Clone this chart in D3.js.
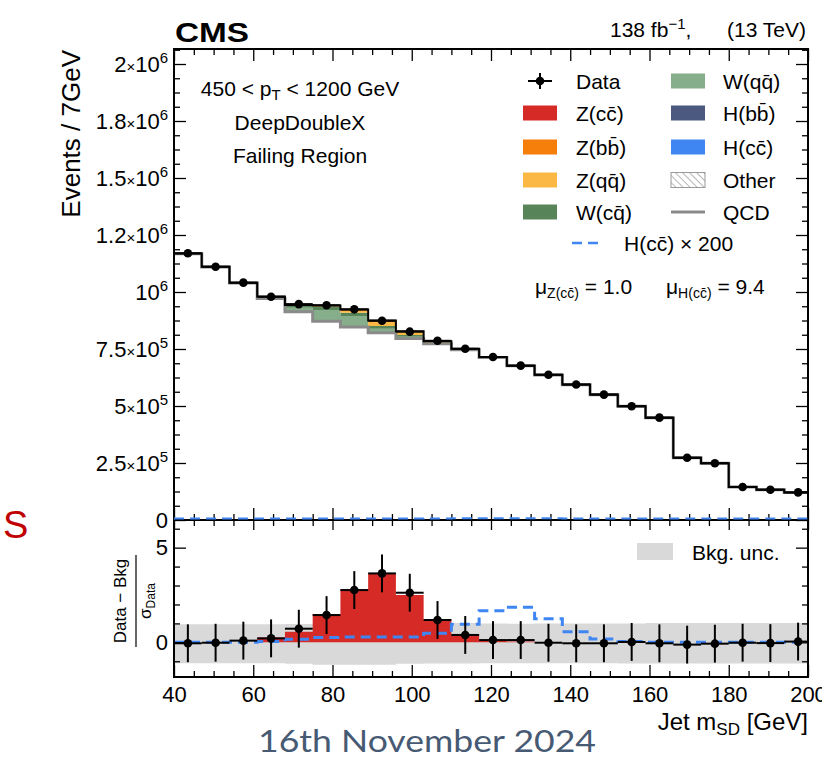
<!DOCTYPE html>
<html>
<head>
<meta charset="utf-8">
<script src="https://cdn.jsdelivr.net/npm/d3@7"></script>
<style>
  body { margin: 0; background: #fff; }
  svg text { font-family: "Liberation Sans", Arial, Helvetica, sans-serif; fill: #000; white-space: pre; }
</style>
</head>
<body>
<div id="chart"></div>
<script>
// Jet mSD bins (7 GeV wide), low edges
const binLow = [40, 47, 54, 61, 68, 75, 82, 89, 96, 103, 110, 117, 124, 131, 138, 145, 152, 159, 166, 173, 180, 187, 194];
const binWidth = 7;

// Top panel: events per bin
const dataCounts = [1170000, 1111000, 1041000, 979000, 947000, 942000, 924000, 874000, 826000, 786000, 751000, 715000, 677000, 637000, 594000, 550000, 499000, 449000, 273000, 249000, 145000, 133000, 121000];
const qcd = [1168000, 1109500, 1039500, 971500, 913000, 872000, 847000, 821000, 796500, 772500, 746500, 713000, 676000, 636000, 593500, 549500, 498500, 448500, 272500, 248500, 144500, 132500, 120500];
const other = [1200, 1100, 1000, 950, 900, 850, 800, 780, 750, 720, 700, 680, 650, 620, 600, 560, 520, 480, 300, 270, 180, 160, 140];
const hcc = [0, 0, 0, 0.2, 0.7, 1, 1.3, 1.4, 1.2, 1.9, 3.7, 6.1, 7.8, 5.2, 2.2, 0.7, 0.1, 0, 0, 0, 0, 0, 0];
const hbb = [0, 0, 0, 0, 0, 0, 0, 5, 10, 20, 40, 60, 70, 50, 20, 5, 0, 0, 0, 0, 0, 0, 0];
const wqq = [0, 0, 0, 5500, 17500, 48000, 47000, 17500, 7000, 2000, 500, 0, 0, 0, 0, 0, 0, 0, 0, 0, 0, 0, 0];
const wcq = [0, 0, 0, 2000, 9000, 14500, 14500, 12000, 7000, 1500, 300, 0, 0, 0, 0, 0, 0, 0, 0, 0, 0, 0, 0];
const zqq = [0, 0, 0, 500, 2000, 3000, 9000, 17500, 12000, 5000, 2500, 1000, 0, 0, 0, 0, 0, 0, 0, 0, 0, 0, 0];
const zbb = [0, 0, 0, 0, 300, 800, 2000, 3000, 2500, 1200, 400, 0, 0, 0, 0, 0, 0, 0, 0, 0, 0, 0, 0];
const zcc = [0, 0, 0, 200, 600, 1500, 3000, 3500, 2500, 1100, 400, 100, 0, 0, 0, 0, 0, 0, 0, 0, 0, 0, 0];

// Bottom panel: (Data - Bkg) / sigma_Data
const dataPull = [-0.05, -0.02, 0.09, 0.21, 0.72, 1.44, 2.76, 3.64, 2.62, 1.18, 0.39, 0.12, 0.12, -0.02, -0.05, -0.05, 0.02, -0.05, -0.12, -0.07, -0.02, -0.04, 0.04];
const zccPull = [0, 0, 0, 0.25, 0.56, 1.5, 2.8, 3.64, 2.5, 1.21, 0.42, 0.11, 0.05, 0, 0, 0, 0, 0, 0, 0, 0, 0, 0];
const hcc200Pull = [0, 0, 0, 0.04, 0.16, 0.25, 0.28, 0.28, 0.28, 0.48, 0.96, 1.67, 1.85, 1.25, 0.56, 0.18, 0.04, 0, 0, 0, 0, 0, 0];
const bkgUncUp = [0.95, 0.95, 0.95, 0.95, 0.97, 1.0, 1.0, 1.0, 1.0, 1.02, 1.02, 1.0, 0.98, 1.0, 1.0, 1.0, 1.0, 1.02, 1.02, 1.02, 1.02, 1.02, 1.02];
const bkgUncDown = [-1.11, -1.11, -1.11, -1.11, -1.13, -1.18, -1.18, -1.18, -1.13, -1.12, -1.12, -1.1, -1.1, -1.1, -1.1, -1.1, -1.12, -1.12, -1.12, -1.12, -1.12, -1.12, -1.12];

// Axis ticks
const xTicks = [40, 60, 80, 100, 120, 140, 160, 180, 200];
const yTickValues = [0, 250000, 500000, 750000, 1000000, 1250000, 1500000, 1750000, 2000000];
const yTickMantissa = ["0", "2.5", "5", "7.5", "", "1.2", "1.5", "1.8", "2"];
const yTickExp = [null, 5, 5, 5, 6, 6, 6, 6, 6];
const pullTicks = [0, 5];

// Legend
const stackKeys = ["qcd", "other", "hcc", "hbb", "wqq", "wcq", "zqq", "zbb", "zcc"];
const colors = {
  zcc: "#d52a26", zbb: "#f57f0a", zqq: "#fcb845", wcq: "#588459",
  wqq: "#87ae8b", hbb: "#4b5980", hcc: "#3f86f2", other: "url(#hatch)"
};
const legendCol1 = [["data", "Data"], ["zcc", "Z(cc\u0304)"], ["zbb", "Z(bb\u0304)"], ["zqq", "Z(qq\u0304)"], ["wcq", "W(cq\u0304)"]];
const legendCol2 = [["wqq", "W(qq\u0304)"], ["hbb", "H(bb\u0304)"], ["hcc", "H(cc\u0304)"], ["other", "Other"], ["qcd", "QCD"]];

const width = 822, height = 764;
const svg = d3.select("#chart").append("svg").attr("width", width).attr("height", height);
const defs = svg.append("defs");

const pat = defs.append("pattern").attr("id", "hatch").attr("patternUnits", "userSpaceOnUse")
  .attr("width", 5).attr("height", 5).attr("patternTransform", "rotate(-45)");
pat.append("rect").attr("width", 5).attr("height", 5).attr("fill", "#fff");
pat.append("line").attr("x1", 0).attr("y1", 0).attr("x2", 0).attr("y2", 5).attr("stroke", "#888").attr("stroke-width", 1.2);

const x = d3.scaleLinear().domain([40, 200]).range([174, 808]);
const yTop = d3.scaleLinear().domain([0, 2065800]).range([520, 49]);
const yBot = d3.scaleLinear().domain([-1.83, 6.46]).range([677, 520]);

defs.append("clipPath").attr("id", "clipTop").append("rect")
  .attr("x", 174).attr("y", 49).attr("width", 634).attr("height", 471);
defs.append("clipPath").attr("id", "clipBot").append("rect")
  .attr("x", 174).attr("y", 520).attr("width", 634).attr("height", 157);

function steps(vals) {
  const pts = binLow.map((lo, i) => [lo, vals[i]]);
  pts.push([binLow[binLow.length - 1] + binWidth, vals[vals.length - 1]]);
  return pts;
}
const centers = binLow.map(lo => lo + binWidth / 2);

// ---------- top panel ----------
const topG = svg.append("g").attr("clip-path", "url(#clipTop)");

const rows = binLow.map((lo, i) => ({
  lo, qcd: qcd[i], other: other[i], hcc: hcc[i], hbb: hbb[i], wqq: wqq[i],
  wcq: wcq[i], zqq: zqq[i], zbb: zbb[i], zcc: zcc[i]
}));
rows.push(Object.assign({}, rows[rows.length - 1], { lo: binLow[binLow.length - 1] + binWidth }));
const series = d3.stack().keys(stackKeys)(rows);

const stackArea = d3.area().curve(d3.curveStepAfter)
  .x(d => x(d.data.lo)).y0(d => yTop(d[0])).y1(d => yTop(d[1]));

topG.selectAll(".stack")
  .data(series.filter(s => s.key !== "qcd"))
  .join("path")
  .attr("class", "stack")
  .attr("fill", s => colors[s.key])
  .attr("d", stackArea);

const stepLine = (yScale) => d3.line().curve(d3.curveStepAfter).x(d => x(d[0])).y(d => yScale(d[1]));

topG.append("path").datum(steps(qcd))
  .attr("fill", "none").attr("stroke", "#8a8a8a").attr("stroke-width", 3)
  .attr("d", stepLine(yTop));

const total = series[series.length - 1].map(d => d[1]).slice(0, binLow.length);
topG.append("path").datum(steps(total))
  .attr("fill", "none").attr("stroke", "#000").attr("stroke-width", 2)
  .attr("d", stepLine(yTop));

const pts = topG.selectAll(".pt").data(dataCounts).join("g").attr("class", "pt");
pts.append("line")
  .attr("x1", (d, i) => x(binLow[i])).attr("x2", (d, i) => x(binLow[i] + binWidth))
  .attr("y1", d => yTop(d)).attr("y2", d => yTop(d))
  .attr("stroke", "#000").attr("stroke-width", 2);
pts.append("line")
  .attr("x1", (d, i) => x(centers[i])).attr("x2", (d, i) => x(centers[i]))
  .attr("y1", d => yTop(d - Math.sqrt(d))).attr("y2", d => yTop(d + Math.sqrt(d)))
  .attr("stroke", "#000").attr("stroke-width", 2);
pts.append("circle")
  .attr("cx", (d, i) => x(centers[i])).attr("cy", d => yTop(d)).attr("r", 4.3).attr("fill", "#000");

// ---------- bottom panel ----------
const botG = svg.append("g").attr("clip-path", "url(#clipBot)");

const band = binLow.map((lo, i) => ({ lo, up: bkgUncUp[i], dn: bkgUncDown[i] }));
band.push(Object.assign({}, band[band.length - 1], { lo: binLow[binLow.length - 1] + binWidth }));
botG.append("path").datum(band)
  .attr("fill", "#d9d9d9")
  .attr("d", d3.area().curve(d3.curveStepAfter).x(d => x(d.lo)).y0(d => yBot(d.dn)).y1(d => yBot(d.up)));

botG.append("path").datum(steps(zccPull))
  .attr("fill", "#d52a26")
  .attr("d", d3.area().curve(d3.curveStepAfter).x(d => x(d[0])).y0(yBot(0)).y1(d => yBot(d[1])));

botG.append("path").datum(steps(hcc200Pull))
  .attr("fill", "none").attr("stroke", "#3f86f2").attr("stroke-width", 3)
  .attr("stroke-dasharray", "10,6")
  .attr("d", stepLine(yBot));

const bpts = botG.selectAll(".bpt").data(dataPull).join("g").attr("class", "bpt");
bpts.append("line")
  .attr("x1", (d, i) => x(binLow[i])).attr("x2", (d, i) => x(binLow[i] + binWidth))
  .attr("y1", d => yBot(d)).attr("y2", d => yBot(d))
  .attr("stroke", "#000").attr("stroke-width", 2);
bpts.append("line")
  .attr("x1", (d, i) => x(centers[i])).attr("x2", (d, i) => x(centers[i]))
  .attr("y1", d => yBot(d - 1)).attr("y2", d => yBot(d + 1))
  .attr("stroke", "#000").attr("stroke-width", 2);
bpts.append("circle")
  .attr("cx", (d, i) => x(centers[i])).attr("cy", d => yBot(d)).attr("r", 4.3).attr("fill", "#000");

// ---------- axes ----------
const xMinor = d3.range(40, 201, 5).filter(v => v % 20 !== 0);
const yMinor = d3.range(0, 2065800, 62500).filter(v => v % 250000 !== 0);
const pullMinor = [-1, 1, 2, 3, 4, 6];

function styleAxis(g) {
  g.select(".domain").remove();
  g.selectAll(".tick line").attr("stroke-width", 1.3);
  g.attr("font-family", null).attr("font-size", 22);
}
function addAxis(axis, tx, ty) {
  return svg.append("g").attr("transform", `translate(${tx},${ty})`).call(axis).call(styleAxis);
}

// top panel
const yAx = addAxis(d3.axisLeft(yTop).tickValues(yTickValues).tickSize(-12).tickPadding(6).tickFormat(() => ""), 174, 0);
yAx.selectAll(".tick text").each(function (d, i) {
  const t = d3.select(this);
  if (yTickExp[i] === null) { t.text(yTickMantissa[i]); return; }
  if (yTickMantissa[i]) {
    t.append("tspan").text(yTickMantissa[i]);
    t.append("tspan").attr("font-size", 15).text("\u00d7");
  }
  t.append("tspan").text("10");
  t.append("tspan").attr("font-size", 15).attr("dy", -9).text(yTickExp[i]);
});
addAxis(d3.axisLeft(yTop).tickValues(yMinor).tickSize(-6).tickFormat(""), 174, 0);
addAxis(d3.axisRight(yTop).tickValues(yTickValues).tickSize(-12).tickFormat(""), 808, 0);
addAxis(d3.axisRight(yTop).tickValues(yMinor).tickSize(-6).tickFormat(""), 808, 0);
addAxis(d3.axisTop(x).tickValues(xTicks).tickSize(-12).tickFormat(""), 0, 49);
addAxis(d3.axisTop(x).tickValues(xMinor).tickSize(-6).tickFormat(""), 0, 49);
addAxis(d3.axisBottom(x).tickValues(xTicks).tickSize(-12).tickFormat(""), 0, 520);
addAxis(d3.axisBottom(x).tickValues(xMinor).tickSize(-6).tickFormat(""), 0, 520);

// bottom panel
addAxis(d3.axisTop(x).tickValues(xTicks).tickSize(-10).tickFormat(""), 0, 520);
addAxis(d3.axisTop(x).tickValues(xMinor).tickSize(-6).tickFormat(""), 0, 520);
addAxis(d3.axisBottom(x).tickValues(xTicks).tickSize(-12).tickPadding(9), 0, 677);
addAxis(d3.axisBottom(x).tickValues(xMinor).tickSize(-6).tickFormat(""), 0, 677);
addAxis(d3.axisLeft(yBot).tickValues(pullTicks).tickSize(-12).tickPadding(6), 174, 0);
addAxis(d3.axisLeft(yBot).tickValues(pullMinor).tickSize(-6).tickFormat(""), 174, 0);
addAxis(d3.axisRight(yBot).tickValues(pullTicks).tickSize(-12).tickFormat(""), 808, 0);
addAxis(d3.axisRight(yBot).tickValues(pullMinor).tickSize(-6).tickFormat(""), 808, 0);

// frames
svg.append("rect").attr("x", 174).attr("y", 49).attr("width", 634).attr("height", 471)
  .attr("fill", "none").attr("stroke", "#000").attr("stroke-width", 2);
svg.append("rect").attr("x", 174).attr("y", 520).attr("width", 634).attr("height", 157)
  .attr("fill", "none").attr("stroke", "#000").attr("stroke-width", 2);

// H(cc) x 200 in the top panel sits on the zero line, drawn over the frame
svg.append("g").attr("clip-path", "url(#clipTop)")
  .append("path").datum(steps(hcc.map(v => v * 200)))
  .attr("transform", "translate(0,-1.5)")
  .attr("fill", "none").attr("stroke", "#3f86f2").attr("stroke-width", 2)
  .attr("stroke-dasharray", "10,6")
  .attr("d", stepLine(yTop));

// ---------- labels ----------
svg.append("text").attr("x", 175).attr("y", 42).attr("font-size", 28).attr("font-weight", "bold")
  .attr("textLength", 74).attr("lengthAdjust", "spacingAndGlyphs").text("CMS");

const lumi = svg.append("text").attr("x", 610).attr("y", 37).attr("font-size", 21);
lumi.append("tspan").text("138 fb");
lumi.append("tspan").attr("font-size", 15).attr("dy", -8).text("\u22121");
lumi.append("tspan").attr("dy", 8).text(",");
svg.append("text").attr("x", 806).attr("y", 37).attr("font-size", 21).attr("text-anchor", "end").text("(13 TeV)");

svg.append("text").attr("transform", "translate(80,50) rotate(-90)").attr("text-anchor", "end")
  .attr("font-size", 26).text("Events / 7GeV");

const info = svg.append("g").attr("font-size", 21).attr("text-anchor", "middle");
const ptText = info.append("text").attr("x", 300).attr("y", 96);
ptText.append("tspan").text("450 < p");
ptText.append("tspan").attr("font-size", 15).attr("dy", 4).text("T");
ptText.append("tspan").attr("dy", -4).text(" < 1200 GeV");
info.append("text").attr("x", 300).attr("y", 130).text("DeepDoubleX");
info.append("text").attr("x", 300).attr("y", 163).text("Failing Region");

// legend
const rowY = [81, 113, 147, 180, 212];
const leg = svg.append("g").attr("font-size", 21);
function legendItem(key, label, sx, tx, cy) {
  if (key === "data") {
    leg.append("line").attr("x1", sx + 5).attr("x2", sx + 29).attr("y1", cy).attr("y2", cy).attr("stroke", "#000").attr("stroke-width", 2);
    leg.append("line").attr("x1", sx + 17).attr("x2", sx + 17).attr("y1", cy - 8).attr("y2", cy + 8).attr("stroke", "#000").attr("stroke-width", 2);
    leg.append("circle").attr("cx", sx + 17).attr("cy", cy).attr("r", 4.3);
  } else if (key === "qcd") {
    leg.append("line").attr("x1", sx).attr("x2", sx + 34).attr("y1", cy).attr("y2", cy).attr("stroke", "#8a8a8a").attr("stroke-width", 3);
  } else {
    leg.append("rect").attr("x", sx).attr("y", cy - 7.5).attr("width", 34).attr("height", 15)
      .attr("fill", colors[key]).attr("stroke", key === "other" ? "#999" : "none");
  }
  leg.append("text").attr("x", tx).attr("y", cy + 7.5).text(label);
}
legendCol1.forEach(([k, l], i) => legendItem(k, l, 523, 576, rowY[i]));
legendCol2.forEach(([k, l], i) => legendItem(k, l, 671, 723, rowY[i]));
leg.append("line").attr("x1", 572).attr("x2", 602).attr("y1", 243).attr("y2", 243)
  .attr("stroke", "#3f86f2").attr("stroke-width", 2.5).attr("stroke-dasharray", "10,6");
leg.append("text").attr("x", 624).attr("y", 250.5).text("H(cc\u0304) \u00d7 200");

const mu = svg.append("g").attr("font-size", 21);
const mu1 = mu.append("text").attr("x", 535).attr("y", 294);
mu1.append("tspan").text("\u03bc");
mu1.append("tspan").attr("font-size", 14).attr("dy", 4).text("Z(cc\u0304)");
mu1.append("tspan").attr("dy", -4).text(" = 1.0");
const mu2 = mu.append("text").attr("x", 666).attr("y", 294);
mu2.append("tspan").text("\u03bc");
mu2.append("tspan").attr("font-size", 14).attr("dy", 4).text("H(cc\u0304)");
mu2.append("tspan").attr("dy", -4).text(" = 9.4");

// bottom panel legend and labels
svg.append("rect").attr("x", 637).attr("y", 543).attr("width", 36).attr("height", 17).attr("fill", "#d9d9d9");
svg.append("text").attr("x", 692).attr("y", 560).attr("font-size", 21).text("Bkg. unc.");

const fr = svg.append("g").attr("transform", "translate(136,601) rotate(-90)");
fr.append("text").attr("text-anchor", "middle").attr("y", -10).attr("font-size", 17).text("Data \u2212 Bkg");
fr.append("line").attr("x1", -46).attr("x2", 46).attr("stroke", "#000").attr("stroke-width", 1.2);
const den = fr.append("text").attr("text-anchor", "middle").attr("y", 15).attr("font-size", 17);
den.append("tspan").text("\u03c3");
den.append("tspan").attr("font-size", 12).attr("dy", 4).text("Data");

const xl = svg.append("text").attr("x", 808).attr("y", 730).attr("font-size", 24).attr("text-anchor", "end");
xl.append("tspan").text("Jet m");
xl.append("tspan").attr("font-size", 17).attr("dy", 5).text("SD");
xl.append("tspan").attr("dy", -5).text(" [GeV]");

// slide decorations
svg.append("text").attr("x", 3).attr("y", 538).attr("font-size", 38).style("fill", "#c00000").text("S");
svg.append("text").attr("x", 258).attr("y", 752).attr("font-size", 31)
  .attr("textLength", 338).attr("lengthAdjust", "spacingAndGlyphs")
  .style("font-family", "Lato, 'Noto Sans', sans-serif").style("fill", "#475a73")
  .text("16th November 2024");
</script>
</body>
</html>
